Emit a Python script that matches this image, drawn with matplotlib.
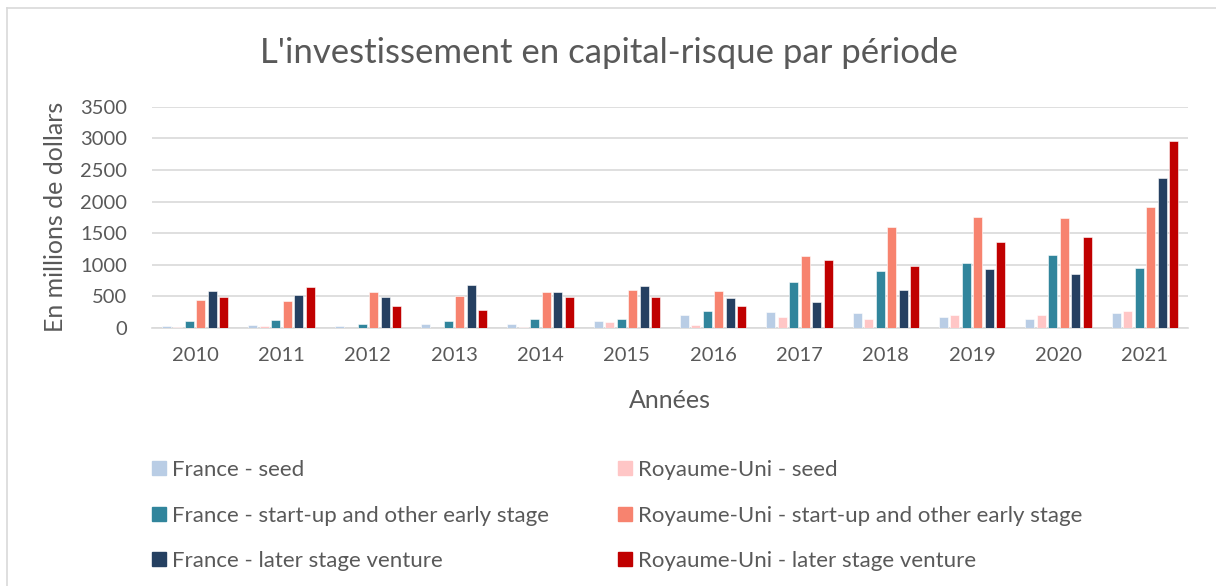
import numpy as np
import matplotlib.pyplot as plt
from matplotlib.lines import Line2D

plt.rcParams['font.family'] = ['Lato', 'DejaVu Sans']

# Donnees (millions de dollars)
annees = ['2010', '2011', '2012', '2013', '2014', '2015',
          '2016', '2017', '2018', '2019', '2020', '2021']
france_seed = [35, 42, 26, 58, 58, 110, 200, 253, 232, 168, 142, 232]
uk_seed = [10, 32, 5, 5, 16, 89, 47, 168, 142, 205, 205, 268]
france_startup = [110, 126, 68, 116, 142, 142, 268, 732, 900, 1032, 1147, 953]
uk_startup = [442, 426, 574, 510, 568, 600, 579, 1142, 1595, 1753, 1747, 1921]
france_later = [579, 521, 490, 684, 568, 663, 468, 410, 595, 932, 847, 2368]
uk_later = [490, 653, 347, 284, 495, 490, 353, 1074, 979, 1363, 1432, 2963]

series = [
    ('France - seed', france_seed, '#B9CDE5'),
    ('Royaume-Uni - seed', uk_seed, '#FFC6C6'),
    ('France - start-up and other early stage', france_startup, '#31859C'),
    ('Royaume-Uni - start-up and other early stage', uk_startup, '#F7836F'),
    ('France - later stage venture', france_later, '#254061'),
    ('Royaume-Uni - later stage venture', uk_later, '#C00000'),
]

gris = '#595959'

fig = plt.figure(figsize=(12.16, 5.86), dpi=100)
ax = fig.add_axes([152 / 1216, 1 - 328 / 586, (1188 - 152) / 1216, (328 - 106.7) / 586])

x = np.arange(len(annees))
pas = 0.133
largeur = 0.104
for i, (nom, vals, coul) in enumerate(series):
    decal = (i - 2.5) * pas
    ax.bar(x + decal, vals, largeur, color=coul, edgecolor='white',
           linewidth=0.4, zorder=3, label=nom)

ax.set_xlim(-0.5, len(annees) - 0.5)
ax.set_ylim(0, 3500)
ax.set_yticks(np.arange(0, 3501, 500))
ax.set_xticks(x)
ax.set_xticklabels(annees)
ax.grid(axis='y', color='#D9D9D9', linewidth=1.2, zorder=0)
for s in ['top', 'right', 'left']:
    ax.spines[s].set_visible(False)
ax.spines['bottom'].set_color('#D9D9D9')
ax.spines['bottom'].set_linewidth(1.2)
ax.tick_params(axis='both', length=0, labelsize=14.5, labelcolor=gris)
ax.tick_params(axis='x', pad=14)
ax.tick_params(axis='y', pad=18)

ax.set_xlabel('Années', fontsize=18, color=gris, labelpad=18)
ax.set_ylabel('En millions de dollars', fontsize=18, color=gris, labelpad=9)

fig.text(0.5 + 0.001, 1 - 53 / 586, "L'investissement en capital-risque par période",
         ha='center', va='center', fontsize=25, color=gris)

# legende : colonne France puis colonne Royaume-Uni
ordre = [0, 2, 4, 1, 3, 5]
hs = [Line2D([], [], marker='s', linestyle='none', markersize=10,
             color=series[k][2]) for k in ordre]
labs = [series[k][0] for k in ordre]
fig.legend(hs, labs, ncol=2, loc='upper left',
           bbox_to_anchor=(128 / 1216, 1 - 440 / 586), frameon=False,
           fontsize=16, labelcolor=gris, handletextpad=0.1,
           handlelength=1.0, columnspacing=2.9, labelspacing=1.15)

# cadre du graphique
fig.add_artist(Line2D([7 / 1216, 7 / 1216], [0, 1 - 8 / 586],
                      transform=fig.transFigure, color='#D9D9D9', linewidth=1.2))
fig.add_artist(Line2D([7 / 1216, 1], [1 - 8 / 586, 1 - 8 / 586],
                      transform=fig.transFigure, color='#D9D9D9', linewidth=1.2))

fig.savefig('out.png', dpi=100)
